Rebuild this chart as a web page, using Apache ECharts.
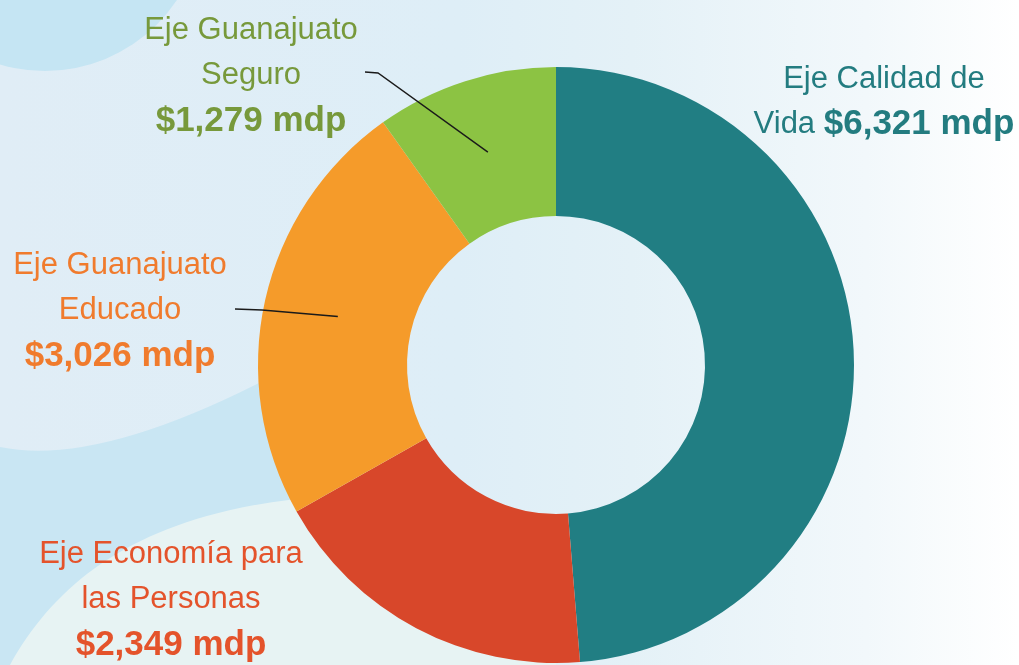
<!DOCTYPE html>
<html>
<head>
<meta charset="utf-8">
<script src="https://cdn.jsdelivr.net/npm/echarts@6/dist/echarts.min.js"></script>
<style>
  html, body { margin: 0; padding: 0; width: 1019px; height: 665px; overflow: hidden; }
  body { background: linear-gradient(90deg, #E0EDF6 0%, #DEEEF7 45%, #E4F1F7 62%, #F2F8FB 85%, #FFFFFF 100%); position: relative; }
  #bg { position: absolute; left: 0; top: 0; }
  #chart { position: absolute; left: 0; top: 0; width: 1019px; height: 665px; }
</style>
</head>
<body>
<svg id="bg" width="1019" height="665" viewBox="0 0 1019 665">
  <circle cx="45" cy="-87" r="158" fill="#C5E5F3"/>
  <path d="M0,447 Q110,470 320,350 L330,360 L330,665 L0,665 Z" fill="#C9E6F3"/>
  <path d="M10,665 C60,575 150,508 330,496 L400,500 L470,530 L556,530 L556,665 Z" fill="#E7F3F3"/>
</svg>
<div id="chart"></div>
<script>
// ---- data ----
const categories = ['Eje Calidad de Vida', 'Eje Economía para las Personas', 'Eje Guanajuato Educado', 'Eje Guanajuato Seguro'];
const values = [6321, 2349, 3026, 1279];
const labelTexts = ['Eje Calidad de\nVida ', 'Eje Economía para\nlas Personas\n', 'Eje Guanajuato\nEducado\n', 'Eje Guanajuato\nSeguro\n'];
const sliceColors = ['#217E83', '#D8472A', '#F59B2A', '#8CC343'];
const textColors = ['#237C80', '#E4532B', '#F07B2D', '#77993B'];

// ---- layout / style ----
const CX = 556, CY = 365, R_IN = 149, R_OUT = 298;
const labelPos = [[884, 102], [171, 600], [120, 311], [251, 76]];
const FONT = "'Liberation Sans', Arial, sans-serif";

const total = values.reduce((a, b) => a + b, 0);
function midPoint(i, r) {
  let cum = 0;
  for (let k = 0; k < i; k++) cum += values[k];
  cum += values[i] / 2;
  const a = cum / total * Math.PI * 2;
  return [CX + r * Math.sin(a), CY - r * Math.cos(a)];
}
function fmtValue(v) { return '$' + v.toLocaleString('en-US') + ' mdp'; }

const data = categories.map((name, i) => ({
  name: name,
  value: values[i],
  itemStyle: { color: sliceColors[i] },
  label: {
    rich: {
      n: { fontFamily: FONT, fontSize: 31, lineHeight: 45, color: textColors[i] },
      v: { fontFamily: FONT, fontSize: 35, fontWeight: 'bold', lineHeight: 46, color: textColors[i] }
    }
  }
}));

const chart = echarts.init(document.getElementById('chart'), null, { renderer: 'canvas' });
const RMID = (R_IN + R_OUT) / 2;
chart.setOption({
  backgroundColor: 'transparent',
  animation: false,
  graphic: [
    { type: 'polyline', z: 10, silent: true,
      shape: { points: [[365, 72], [378, 73], midPoint(3, RMID)] },
      style: { stroke: '#1a1a1a', lineWidth: 1.4, fill: null } },
    { type: 'polyline', z: 10, silent: true,
      shape: { points: [[235, 309], [262, 310], midPoint(2, RMID)] },
      style: { stroke: '#1a1a1a', lineWidth: 1.4, fill: null } }
  ],
  series: [{
    type: 'pie',
    z: 2,
    center: [CX, CY],
    radius: [R_IN, R_OUT],
    startAngle: 90,
    clockwise: true,
    avoidLabelOverlap: false,
    emphasis: { disabled: true },
    itemStyle: { borderWidth: 0 },
    label: {
      show: true,
      position: 'outside',
      align: 'center',
      formatter: function (p) {
        const i = p.dataIndex;
        const lines = labelTexts[i].split('\n');
        const parts = lines.map((ln, k) => {
          let s = ln ? '{n|' + ln + '}' : '';
          if (k === lines.length - 1) s += '{v|' + fmtValue(values[i]) + '}';
          return s;
        });
        return parts.join('\n');
      }
    },
    labelLine: { show: false },
    labelLayout: function (p) {
      const pos = labelPos[p.dataIndex];
      return { x: pos[0], y: pos[1], align: 'center', verticalAlign: 'middle', hideOverlap: false };
    },
    data: data
  }]
});
</script>
</body>
</html>
